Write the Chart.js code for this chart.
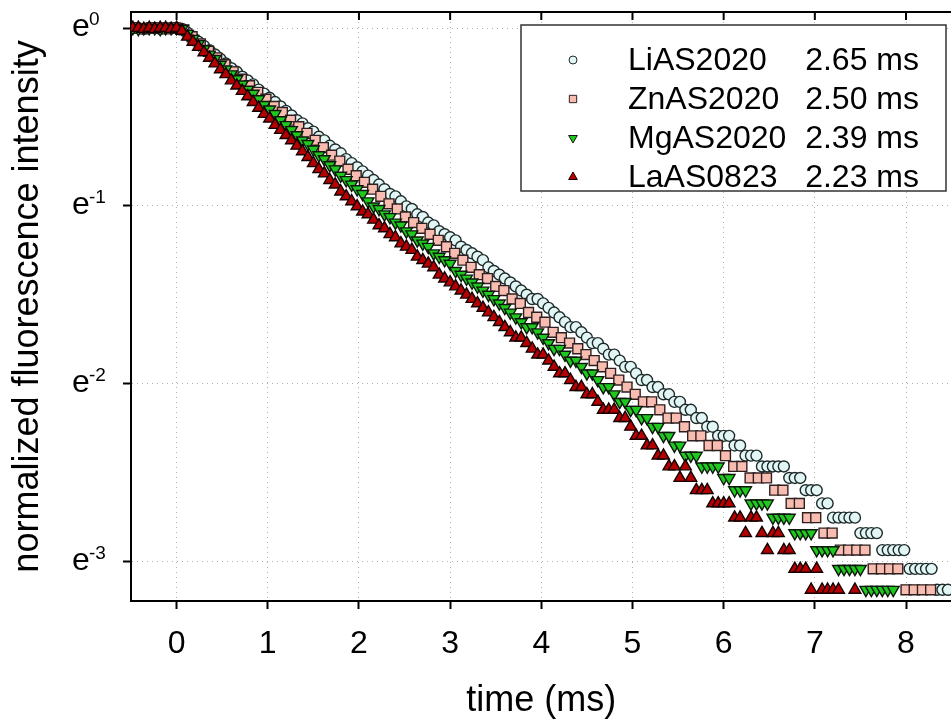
<!DOCTYPE html>
<html>
<head>
<meta charset="utf-8">
<script src="https://cdn.jsdelivr.net/npm/chart.js"></script>
<style>
  html, body { margin: 0; padding: 0; background: #fff; overflow: hidden; }
</style>
</head>
<body>
<canvas id="decay" width="960" height="727"></canvas>
<script>
// photon counts per time bin, normalized by the peak count
const peakCount = 188;
const seriesNames = ['LiAS2020', 'ZnAS2020', 'MgAS2020', 'LaAS0823'];
const lifetimes = ['2.65 ms', '2.50 ms', '2.39 ms', '2.23 ms'];
const startTimes = [-0.48, -0.46, -0.48, -0.48];   // ms
const timeSteps = [0.06, 0.09, 0.06, 0.06];        // ms

const liCounts = [188,188,187,188,188,187,188,188,188,
  187,183,178,174,170,166,162,158,154,150,
  147,143,140,137,133,130,127,124,121,118,
  115,112,110,107,105,102,100,97,95,93,
  90,88,86,84,82,80,78,76,74,73,
  71,69,68,66,65,63,62,60,59,58,
  57,55,54,53,52,51,49,48,47,46,
  45,44,43,42,41,41,40,39,38,37,
  36,35,35,34,33,32,32,31,30,30,
  29,28,28,27,26,26,25,25,24,24,
  23,23,22,22,21,21,20,20,19,19,
  19,18,18,17,17,17,16,16,16,16,
  16,15,15,15,14,14,14,13,13,12,
  12,12,12,12,11,11,11,11,10,10,
  10,10,10,9,9,9,9,9,8,8,8];
const znCounts = [188,187,188,188,187,188,
  186,179,172,165,159,153,147,141,136,131,
  126,121,117,112,108,104,100,96,92,89,
  85,82,79,76,73,70,68,65,63,61,
  59,57,55,53,51,49,47,46,44,43,
  41,40,38,37,36,34,33,32,31,30,
  29,28,27,26,25,24,23,23,22,21,
  21,20,19,19,18,18,17,16,16,15,
  15,15,14,14,13,13,12,12,11,11,
  10,10,10,10,9,9,9,9,8,8,8,8];
const mgCounts = [188,187,188,188,188,187,188,188,188,
  187,182,177,172,167,162,158,153,149,145,
  141,137,133,130,126,122,119,116,112,109,
  106,103,100,98,95,92,90,87,85,82,
  80,78,76,74,71,69,68,66,65,63,
  62,60,59,57,56,55,53,52,51,50,
  48,47,46,45,44,43,42,41,40,39,
  38,37,36,35,35,34,33,32,31,31,
  30,29,29,28,27,27,26,25,25,24,
  23,23,22,22,21,21,20,20,19,19,
  18,18,17,17,17,16,16,16,16,15,
  15,14,14,14,13,13,13,13,12,12,
  12,12,11,11,11,11,10,10,10,10,
  9,9,9,9,9,8,8,8,8,8,8];
const laCounts = [188,188,187,188,187,188,188,187,188,
  185,179,174,169,164,159,154,149,145,140,
  136,132,128,124,120,116,113,109,106,103,
  100,97,94,91,88,85,83,80,78,75,
  73,71,69,67,66,64,62,61,59,58,
  56,55,54,52,51,50,49,47,46,45,
  44,43,42,41,40,39,38,37,36,35,
  34,33,33,32,31,30,30,29,28,27,
  27,26,25,25,24,24,23,22,22,22,
  21,21,20,19,19,18,18,17,17,16,
  16,15,16,15,14,14,14,13,13,13,
  13,12,12,11,12,12,11,10,11,11,
  10,10,9,9,9,8,9,8,8,8,
  8,7,7,8];

const xTicks = [0, 1, 2, 3, 4, 5, 6, 7, 8];
const yTickPowers = [0, -1, -2, -3];
const yTickExponents = ['0', '-1', '-2', '-3'];

const FAMILY = '"Liberation Sans", Arial, sans-serif';

function toPoints(counts, t0, dt) {
  return counts.map((n, i) => ({ x: t0 + i * dt, y: n / peakCount }));
}

const styles = [
  { pointStyle: 'circle', radius: 5.5, rotation: 0, fill: '#e2f6f6', stroke: '#1e2a2a', legendRadius: 4 },
  { pointStyle: 'rect', radius: 7, rotation: 0, fill: '#f9bcb0', stroke: '#2e2020', legendRadius: 5.2 },
  { pointStyle: 'triangle', radius: 6.8, rotation: 180, fill: '#1ec81e', stroke: '#0c180c', legendRadius: 5 },
  { pointStyle: 'triangle', radius: 6.8, rotation: 0, fill: '#b40000', stroke: '#140000', legendRadius: 5 }
];
const allCounts = [liCounts, znCounts, mgCounts, laCounts];

const datasets = allCounts.map((counts, i) => ({
  label: seriesNames[i],
  data: toPoints(counts, startTimes[i], timeSteps[i]),
  showLine: false,
  pointStyle: styles[i].pointStyle,
  pointRadius: styles[i].radius,
  pointRotation: styles[i].rotation,
  pointBackgroundColor: styles[i].fill,
  pointBorderColor: styles[i].stroke,
  pointBorderWidth: 1.4,
  order: 4 - i
}));

const decorations = {
  id: 'decorations',
  afterDraw(chart) {
    const { ctx, chartArea: a, scales: { x, y } } = chart;
    ctx.save();
    // top frame with inward ticks
    ctx.strokeStyle = '#000';
    ctx.lineWidth = 2;
    ctx.beginPath();
    ctx.moveTo(a.left - 1, a.top);
    ctx.lineTo(a.right + 1, a.top);
    xTicks.forEach(v => {
      const px = x.getPixelForValue(v);
      ctx.moveTo(px, a.top);
      ctx.lineTo(px, a.top + 8);
    });
    ctx.stroke();

    // y tick labels e^n
    ctx.fillStyle = '#000';
    ctx.textAlign = 'left';
    ctx.textBaseline = 'alphabetic';
    yTickPowers.forEach((p, i) => {
      const py = y.getPixelForValue(Math.exp(p));
      ctx.font = '32px ' + FAMILY;
      ctx.fillText('e', 72, py + 8);
      ctx.font = '19px ' + FAMILY;
      ctx.fillText(yTickExponents[i], 89, py - 3);
    });

    // legend box
    const bx = 521, by = 25, bw = 425, bh = 166;
    ctx.fillStyle = '#fff';
    ctx.fillRect(bx, by, bw, bh);
    ctx.strokeStyle = '#333';
    ctx.lineWidth = 1.5;
    ctx.strokeRect(bx, by, bw, bh);
    seriesNames.forEach((name, i) => {
      const cy = 58 + i * 39;
      const s = styles[i];
      ctx.fillStyle = s.fill;
      ctx.strokeStyle = s.stroke;
      ctx.lineWidth = 1;
      Chart.helpers.drawPoint(ctx, {
        pointStyle: s.pointStyle, radius: s.legendRadius, rotation: s.rotation, borderWidth: 1
      }, 573, cy + 2);
      ctx.fillStyle = '#000';
      ctx.font = '32px ' + FAMILY;
      ctx.textAlign = 'left';
      ctx.fillText(name, 628, cy + 11.5);
      ctx.textAlign = 'right';
      ctx.fillText(lifetimes[i], 919, cy + 11.5);
    });
    ctx.restore();
  }
};

new Chart(document.getElementById('decay'), {
  type: 'scatter',
  data: { datasets },
  options: {
    responsive: false,
    animation: false,
    layout: { padding: { top: 12, right: 7, left: 0, bottom: 0 } },
    plugins: { legend: { display: false }, tooltip: { enabled: false } },
    scales: {
      x: {
        type: 'linear',
        min: -0.5,
        max: 8.5,
        afterBuildTicks: s => { s.ticks = xTicks.map(v => ({ value: v })); },
        afterFit: s => { s.height = 126; },
        grid: { color: '#b0b0b0', lineWidth: 1, tickColor: '#000', tickWidth: 2, tickLength: 8 },
        border: { color: '#000', width: 2, dash: [1, 4] },
        ticks: {
          font: { size: 32, family: FAMILY }, color: '#000', padding: 16,
          maxRotation: 0, autoSkip: false, callback: v => String(v)
        },
        title: {
          display: true, text: 'time (ms)', color: '#000',
          font: { size: 36, family: FAMILY }, padding: { top: 0, bottom: 4 }
        }
      },
      y: {
        type: 'logarithmic',
        min: Math.exp(-3.22),
        max: Math.exp(0.09),
        afterBuildTicks: s => { s.ticks = yTickPowers.map(p => ({ value: Math.exp(p) })); },
        afterFit: s => { s.width = 131; },
        grid: { color: '#b0b0b0', lineWidth: 1, tickColor: '#000', tickWidth: 2, tickLength: 8 },
        border: { color: '#000', width: 2, dash: [1, 4] },
        ticks: { display: false },
        title: {
          display: true, text: 'normalized fluorescence intensity', color: '#000',
          font: { size: 36, family: FAMILY }, padding: { top: 6, bottom: 0 }
        }
      }
    }
  },
  plugins: [decorations]
});
</script>
</body>
</html>
